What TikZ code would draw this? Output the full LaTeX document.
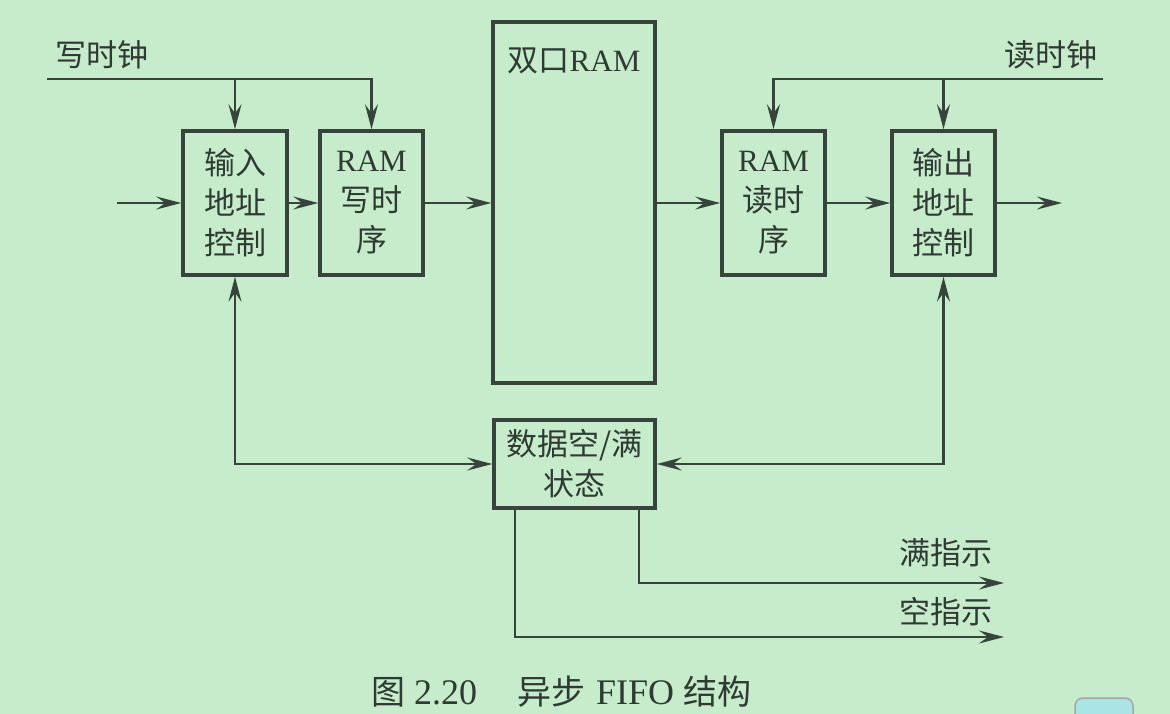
\documentclass[tikz,border=0pt]{standalone}
\usepackage{fontspec}
\setmainfont{Liberation Serif}
\newfontfamily\cjk{Noto Sans CJK SC}
\usetikzlibrary{arrows.meta,calc}
\definecolor{bgc}{RGB}{198,236,203}
\definecolor{ink}{RGB}{55,68,60}
\definecolor{txt}{RGB}{48,58,52}
\definecolor{tabc}{RGB}{170,228,228}
\newcommand{\zh}[1]{{\cjk #1}}
\tikzset{
  tip/.tip={Stealth[length=25pt,width=13pt,inset=9pt]},
  blk/.style={draw=ink, line width=3.5pt, rectangle, inner sep=0pt, align=center,
    text=txt, font=\fontsize{31}{40}\selectfont},
  lbl/.style={inner sep=0pt, text=txt, font=\fontsize{31}{36}\selectfont},
  wire/.style={draw=ink, line width=2.3pt, -tip},
  bwire/.style={draw=ink, line width=2.3pt, tip-tip}
}
\begin{document}
\begin{tikzpicture}[x=1pt,y=-1pt]
\useasboundingbox (0,0) rectangle (1170,714);
\clip (0,0) rectangle (1170,714);
\fill[bgc] (0,0) rectangle (1170,714);

% blocks
\node[blk, minimum width=104pt, minimum height=144pt] (b1) at (235,203) {\zh{输入}\\\zh{地址}\\\zh{控制}};
\node[blk, minimum width=103pt, minimum height=144pt] (b2) at (371.5,203) {RAM\\\zh{写时}\\\zh{序}};
\node[blk, minimum width=162pt, minimum height=361pt] (ram) at (574,202.5) {};
\node[lbl] (ramlbl) at (574,61) {\zh{双口}RAM};
\node[blk, minimum width=103pt, minimum height=144pt] (b3) at (773.5,203) {RAM\\\zh{读时}\\\zh{序}};
\node[blk, minimum width=103pt, minimum height=144pt] (b4) at (943.5,203) {\zh{输出}\\\zh{地址}\\\zh{控制}};
\node[blk, minimum width=161pt, minimum height=88pt] (st) at (574.5,464) {\zh{数据空/满}\\\zh{状态}};

% labels
\node[lbl] (wclk) at (102,55) {\zh{写时钟}};
\node[lbl] (rclk) at (1051,55) {\zh{读时钟}};
\node[lbl] (full) at (946,553) {\zh{满指示}};
\node[lbl] (empty) at (946,612) {\zh{空指示}};
\node[lbl, anchor=base west, font=\fontsize{34}{36}\selectfont] (cap) at (371,704)
  {\zh{图}\hspace{9pt}{\fontsize{36}{36}\selectfont 2.20}\hspace{40pt}\zh{异步}\hspace{11pt}{\fontsize{36}{36}\selectfont FIFO}\hspace{9pt}\zh{结构}};

% end points
\coordinate (wcs) at (47,79);
\coordinate (rcs) at (1103,79);
\coordinate (inp) at (117,203);
\coordinate (outp) at (1062,203);
\coordinate (fullend) at (1004,583);
\coordinate (emptyend) at (1004,637);

% clocks
\draw[wire] (wcs) -| (b2.north);
\draw[wire] (b1.north |- wcs) -- (b1.north);
\draw[wire] (rcs) -| (b3.north);
\draw[wire] (b4.north |- rcs) -- (b4.north);

% data path
\draw[wire] (inp) -- (b1.west);
\draw[wire] (b1.east) -- (b2.west);
\draw[wire] (b2.east) -- (b2.east -| ram.west);
\draw[wire] (ram.east |- b3.west) -- (b3.west);
\draw[wire] (b3.east) -- (b4.west);
\draw[wire] (b4.east) -- (outp);

% status
\draw[bwire] (b1.south) |- (st.west);
\draw[bwire] (b4.south) |- (st.east);
\draw[wire] ([xshift=-18pt]st.south east) |- (fullend);
\draw[wire] ([xshift=23pt]st.south west) |- (emptyend);

% corner tab
\draw[fill=tabc, draw=gray!70, line width=1.5pt, rounded corners=8pt] (1075,720) -- (1075,698) -- (1133,698) -- (1133,720);
\end{tikzpicture}
\end{document}
